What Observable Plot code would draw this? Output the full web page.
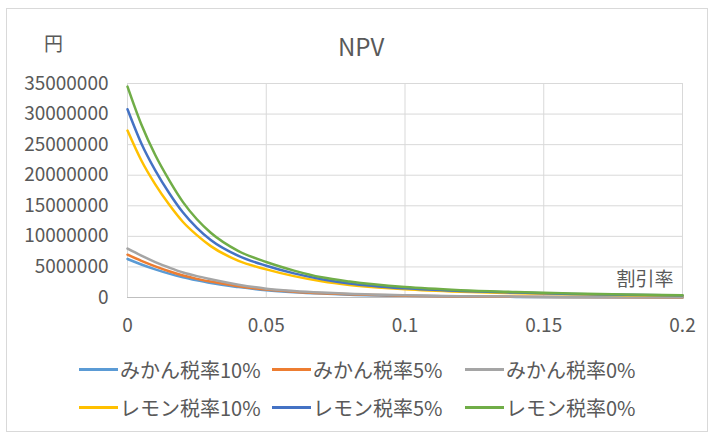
<!DOCTYPE html>
<html><head><meta charset="utf-8">
<script src="https://cdn.jsdelivr.net/npm/d3@7"></script>
<script src="https://cdn.jsdelivr.net/npm/@observablehq/plot@0.6"></script>
<style>
  body { margin:0; background:#fff; font-family:"Noto Sans CJK JP","Noto Sans",sans-serif; }
  #frame { position:absolute; left:6px; top:8px; width:702px; height:424px; border:1px solid #d9d9d9; box-sizing:border-box; }
  #chart { position:absolute; left:0; top:0; }
  .lbl { position:absolute; color:#595959; white-space:nowrap; }
  #legend { position:absolute; left:79px; top:350px; display:grid; grid-template-columns:193px 193px 193px; grid-auto-rows:38px; }
  .item { display:flex; align-items:center; color:#595959; font-size:20px; white-space:nowrap; }
  .sw { width:39px; height:3px; margin-right:2px; }
</style></head>
<body>
<div id="frame"></div>
<div id="chart"></div>
<div class="lbl" style="left:44px;top:29px;font-size:19px;">円</div>
<div class="lbl" style="left:338px;top:28px;font-size:24px;">NPV</div>
<div id="legend"></div>
<script>
const seriesNames = ["みかん税率10%", "みかん税率5%", "みかん税率0%", "レモン税率10%", "レモン税率5%", "レモン税率0%"];
const seriesColors = ["#5B9BD5", "#ED7D31", "#A5A5A5", "#FFC000", "#4472C4", "#70AD47"];
const rates = [0, 0.005, 0.01, 0.015, 0.02, 0.025, 0.03, 0.04, 0.05, 0.06, 0.07, 0.08, 0.1, 0.12, 0.14, 0.16, 0.18, 0.2];
const mikan10 = [6300000, 5400000, 4600000, 3900000, 3300000, 2800000, 2350000, 1700000, 1200000, 870000, 640000, 470000, 270000, 160000, 100000, 60000, 30000, 10000];
const mikan5 = [7000000, 6000000, 5100000, 4300000, 3600000, 3050000, 2600000, 1850000, 1300000, 950000, 700000, 520000, 300000, 180000, 110000, 70000, 40000, 20000];
const mikan0 = [8000000, 6850000, 5800000, 4900000, 4100000, 3500000, 3000000, 2100000, 1450000, 1070000, 800000, 600000, 360000, 220000, 140000, 90000, 60000, 40000];
const lemon10 = [27300000, 22400000, 18500000, 15200000, 12350000, 10200000, 8400000, 6000000, 4600000, 3500000, 2650000, 2050000, 1350000, 950000, 710000, 520000, 380000, 280000];
const lemon5 = [30800000, 25200000, 20800000, 17100000, 13900000, 11400000, 9400000, 6800000, 5200000, 3950000, 3000000, 2300000, 1500000, 1070000, 800000, 580000, 430000, 310000];
const lemon0 = [34500000, 28300000, 23300000, 19200000, 15600000, 12800000, 10600000, 7600000, 5800000, 4400000, 3300000, 2600000, 1700000, 1200000, 900000, 650000, 480000, 350000];
const xTicks = [0, 0.05, 0.1, 0.15, 0.2];
const yTicks = [0, 5000000, 10000000, 15000000, 20000000, 25000000, 30000000, 35000000];
const xLabel = "割引率";

const allSeries = [mikan10, mikan5, mikan0, lemon10, lemon5, lemon0];
const data = [];
allSeries.forEach((vals, i) => vals.forEach((v, j) => data.push({series: seriesNames[i], r: rates[j], v})));

const font = "'Noto Sans CJK JP','Noto Sans',sans-serif";
const chart = Plot.plot({
  width: 713, height: 345,
  marginLeft: 127, marginRight: 31, marginTop: 83, marginBottom: 48,
  style: {fontFamily: font, fontSize: "19px", color: "#595959", background: "transparent"},
  x: {domain: [0, 0.2]},
  y: {domain: [0, 35000000]},
  color: {domain: seriesNames, range: seriesColors},
  marks: [
    Plot.gridY(yTicks, {stroke: "#d9d9d9", strokeOpacity: 1}),
    Plot.gridX(xTicks, {stroke: "#d9d9d9", strokeOpacity: 1}),
    Plot.ruleY([0], {stroke: "#bfbfbf", strokeWidth: 1.2}),
    Plot.axisY(yTicks, {tickSize: 0, tickPadding: 19, tickFormat: d => String(d), label: null, fill: "#595959"}),
    Plot.axisX(xTicks, {tickSize: 0, tickPadding: 21, tickFormat: d => String(d), label: null, fill: "#595959"}),
    Plot.line(data, {x: "r", y: "v", z: "series", stroke: "series", strokeWidth: 2.5, curve: "monotone-x"}),
    Plot.text([xLabel], {frameAnchor: "bottom-right", dx: -9, dy: -12, textAnchor: "end", fill: "#595959", fontSize: 19})
  ]
});
document.getElementById("chart").appendChild(chart);

const legend = document.getElementById("legend");
seriesNames.forEach((name, i) => {
  const it = document.createElement("div");
  it.className = "item";
  it.innerHTML = `<span class="sw" style="background:${seriesColors[i]}"></span><span>${name}</span>`;
  legend.appendChild(it);
});
</script>
</body></html>
